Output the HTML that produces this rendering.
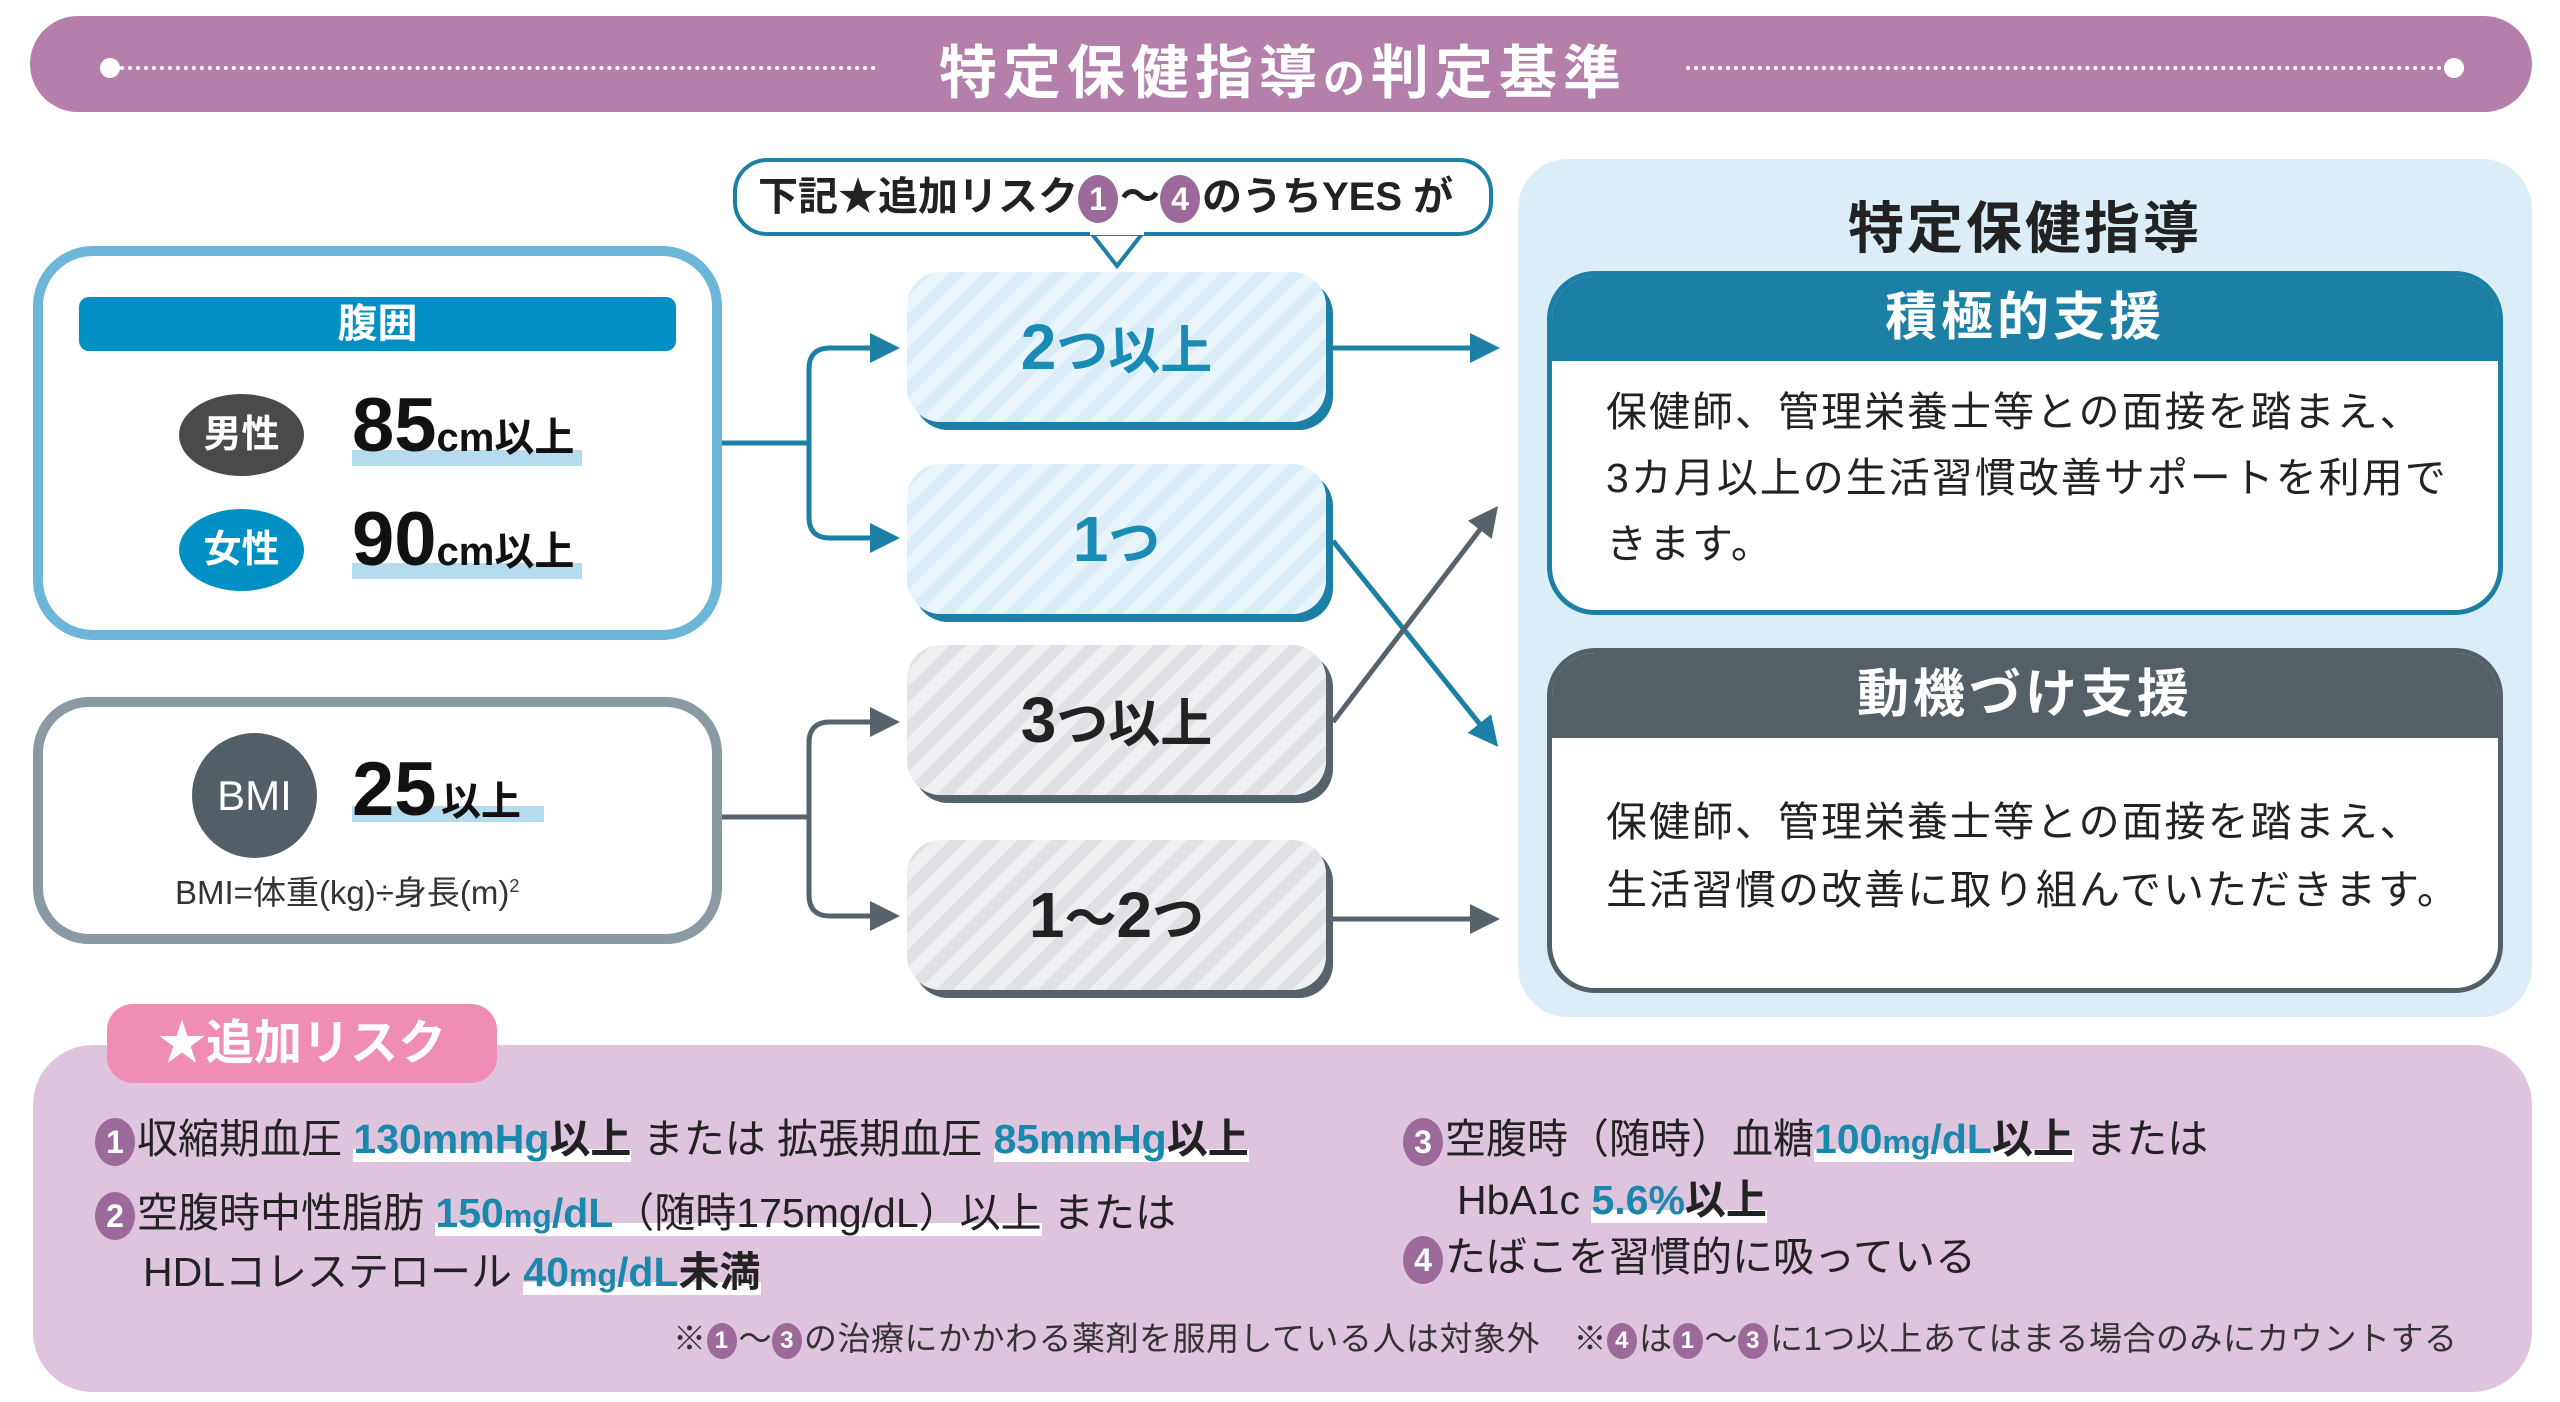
<!DOCTYPE html>
<html><head><meta charset="utf-8">
<style>
*{margin:0;padding:0;box-sizing:border-box}
body{width:2560px;height:1402px;background:#fff;position:relative;overflow:hidden;font-family:"Liberation Sans","Noto Sans CJK JP",sans-serif;color:#222}
.a{position:absolute}
.t{white-space:nowrap}
.num{display:inline-block;width:40px;height:48px;border-radius:50%;background:#9b6a9b;color:#fff;font-size:32px;font-weight:bold;text-align:center;line-height:48px;vertical-align:middle;margin-right:2px}
.hl{color:#1a87ad;font-weight:bold;background:linear-gradient(transparent 72%,#fff 72%)}
.hk{background:linear-gradient(transparent 72%,#fff 72%)}
.cnt{position:absolute;left:907px;width:419px;border-radius:34px;font-weight:600;font-size:64px;text-align:center}
.blue{background:repeating-linear-gradient(-45deg,#d9ecf7 0 12px,#eaf5fb 12px 24px);box-shadow:7px 8px 0 #1c7fa5;color:#1a8bb5}
.gray{background:repeating-linear-gradient(-45deg,#dfe1e4 0 12px,#eeeff1 12px 24px);box-shadow:7px 8px 0 #56636b;color:#222}
</style></head><body>

<div class="a" style="left:30px;top:16px;width:2502px;height:96px;border-radius:48px;background:#b57fac"></div>
<div class="a" style="left:112px;top:66px;width:764px;border-top:4px dotted #fff"></div>
<div class="a" style="left:1686px;top:66px;width:764px;border-top:4px dotted #fff"></div>
<div class="a" style="left:100px;top:58px;width:20px;height:20px;border-radius:50%;background:#fff"></div>
<div class="a" style="left:2444px;top:58px;width:20px;height:20px;border-radius:50%;background:#fff"></div>
<div class="a t" style="left:880px;top:26px;width:806px;text-align:center;font-size:58px;font-weight:bold;color:#fff;letter-spacing:6px">特定保健指導<span style="font-size:42px">の</span>判定基準</div>

<div class="a" style="left:733px;top:158px;width:760px;height:78px;border:4px solid #1c7fa5;border-radius:34px;background:#fff"></div>
<svg class="a" style="left:1090px;top:230px" width="54" height="40"><polygon points="2,4 27,36 52,4" fill="#fff" stroke="#1c7fa5" stroke-width="4"/><rect x="0" y="0" width="54" height="5" fill="#fff"/></svg>
<div class="a t" style="left:758px;top:168px;font-size:40px;font-weight:bold;line-height:58px">下記★追加リスク<span class="num">1</span>〜<span class="num">4</span>のうちYES が</div>

<div class="a" style="left:33px;top:246px;width:689px;height:394px;border:10px solid #6cb6d9;border-radius:60px;background:#fff"></div>
<div class="a" style="left:79px;top:297px;width:597px;height:54px;background:#0090c4;border-radius:10px;color:#fff;font-size:40px;font-weight:bold;text-align:center;line-height:54px">腹囲</div>
<div class="a" style="left:179px;top:394px;width:125px;height:82px;border-radius:50%;background:#4a4a4a;color:#fff;font-size:38px;font-weight:bold;text-align:center;line-height:82px">男性</div>
<div class="a" style="left:179px;top:509px;width:125px;height:82px;border-radius:50%;background:#0090c4;color:#fff;font-size:38px;font-weight:bold;text-align:center;line-height:82px">女性</div>
<div class="a" style="left:352px;top:450px;width:230px;height:16px;background:#b5dcee"></div>
<div class="a" style="left:352px;top:563px;width:230px;height:16px;background:#b5dcee"></div>
<div class="a t" style="left:352px;top:382px;font-weight:bold;color:#111"><span style="font-size:76px">85</span><span style="font-size:40px">cm以上</span></div>
<div class="a t" style="left:352px;top:496px;font-weight:bold;color:#111"><span style="font-size:76px">90</span><span style="font-size:40px">cm以上</span></div>

<div class="a" style="left:33px;top:697px;width:689px;height:247px;border:10px solid #8a9aa3;border-radius:56px;background:#fff"></div>
<div class="a" style="left:192px;top:733px;width:125px;height:125px;border-radius:50%;background:#525f67;color:#fff;font-size:42px;text-align:center;line-height:125px">BMI</div>
<div class="a" style="left:352px;top:806px;width:192px;height:16px;background:#b5dcee"></div>
<div class="a t" style="left:352px;top:746px;font-weight:bold;color:#111"><span style="font-size:76px">25</span> <span style="font-size:40px">以上</span></div>
<div class="a t" style="left:175px;top:866px;font-size:33px;color:#333">BMI=体重(kg)÷身長(m)<sup style="font-size:18px">2</sup></div>

<svg class="a" style="left:0;top:0" width="2560" height="1402">
<defs>
<marker id="mb" markerWidth="6" markerHeight="6" refX="5" refY="3" orient="auto"><polygon points="0,0 6,3 0,6" fill="#1c7fa5"/></marker>
<marker id="mg" markerWidth="6" markerHeight="6" refX="5" refY="3" orient="auto"><polygon points="0,0 6,3 0,6" fill="#56636b"/></marker>
</defs>
<g fill="none" stroke-width="5">
<path d="M722 443 H809" stroke="#1c7fa5"/>
<path d="M895 348 H830 Q809 348 809 369 V517 Q809 538 830 538 H895" stroke="#1c7fa5"/>
<path d="M860 348 H895" stroke="#1c7fa5" marker-end="url(#mb)"/>
<path d="M860 538 H895" stroke="#1c7fa5" marker-end="url(#mb)"/>
<path d="M722 817 H809" stroke="#56636b"/>
<path d="M895 722 H830 Q809 722 809 743 V895 Q809 916 830 916 H895" stroke="#56636b"/>
<path d="M860 722 H895" stroke="#56636b" marker-end="url(#mg)"/>
<path d="M860 916 H895" stroke="#56636b" marker-end="url(#mg)"/>
<path d="M1333 348 H1495" stroke="#1c7fa5" marker-end="url(#mb)"/>
<path d="M1333 541 L1495 743" stroke="#1c7fa5" marker-end="url(#mb)"/>
<path d="M1333 722 L1495 510" stroke="#56636b" marker-end="url(#mg)"/>
<path d="M1333 919 H1495" stroke="#56636b" marker-end="url(#mg)"/>
</g>
</svg>

<div class="cnt blue" style="top:272px;height:150px;line-height:150px">2<span style="font-size:52px">つ以上</span></div>
<div class="cnt blue" style="top:464px;height:150px;line-height:150px">1<span style="font-size:52px">つ</span></div>
<div class="cnt gray" style="top:645px;height:150px;line-height:150px">3<span style="font-size:52px">つ以上</span></div>
<div class="cnt gray" style="top:840px;height:150px;line-height:150px">1<span style="font-size:52px">～</span>2<span style="font-size:52px">つ</span></div>

<div class="a" style="left:1518px;top:159px;width:1014px;height:858px;border-radius:50px;background:#dbeef7"></div>
<div class="a t" style="left:1518px;top:184px;width:1014px;text-align:center;font-size:56px;font-weight:bold;color:#222;letter-spacing:3px">特定保健指導</div>
<div class="a" style="left:1547px;top:271px;width:956px;height:344px;border:5px solid #1c7fa5;border-radius:48px;background:#fff;overflow:hidden">
 <div style="height:85px;background:#1c7fa5;color:#fff;font-size:52px;font-weight:bold;text-align:center;line-height:85px;letter-spacing:4px">積極的支援</div>
 <div style="padding:18px 0 0 54px;font-size:41px;line-height:66px;letter-spacing:2px;color:#222">保健師、管理栄養士等との面接を踏まえ、<br>3カ月以上の生活習慣改善サポートを利用で<br>きます。</div>
</div>
<div class="a" style="left:1547px;top:648px;width:956px;height:345px;border:5px solid #545f66;border-radius:48px;background:#fff;overflow:hidden">
 <div style="height:85px;background:#545f66;color:#fff;font-size:52px;font-weight:bold;text-align:center;line-height:85px;letter-spacing:4px">動機づけ支援</div>
 <div style="padding:50px 0 0 54px;font-size:41px;line-height:68px;letter-spacing:2px;color:#222">保健師、管理栄養士等との面接を踏まえ、<br>生活習慣の改善に取り組んでいただきます。</div>
</div>

<div class="a" style="left:33px;top:1045px;width:2499px;height:347px;border-radius:60px;background:#dfc4dd"></div>
<div class="a" style="left:107px;top:1004px;width:390px;height:79px;border-radius:26px;background:#f08db5;color:#fff;font-size:48px;font-weight:bold;text-align:center;line-height:79px">★追加リスク</div>
<div class="a t" style="left:95px;top:1110px;font-size:41px;line-height:58px"><span class="num">1</span>収縮期血圧 <span class="hl">130mmHg<span style="color:#222">以上</span></span> または 拡張期血圧 <span class="hl">85mmHg<span style="color:#222">以上</span></span></div>
<div class="a t" style="left:95px;top:1184px;font-size:41px;line-height:58px"><span class="num">2</span>空腹時中性脂肪 <span class="hk"><span class="hl">150<span style="font-size:32px">mg</span>/dL</span>（随時175mg/dL）以上</span> または</div>
<div class="a t" style="left:143px;top:1243px;font-size:41px;line-height:58px">HDLコレステロール <span class="hl">40<span style="font-size:32px">mg</span>/dL<span style="color:#222">未満</span></span></div>
<div class="a t" style="left:1403px;top:1110px;font-size:41px;line-height:58px"><span class="num">3</span>空腹時（随時）血糖<span class="hl">100<span style="font-size:32px">mg</span>/dL<span style="color:#222">以上</span></span> または</div>
<div class="a t" style="left:1457px;top:1171px;font-size:41px;line-height:58px">HbA1c <span class="hl">5.6%<span style="color:#222">以上</span></span></div>
<div class="a t" style="left:1403px;top:1228px;font-size:41px;line-height:58px"><span class="num">4</span>たばこを習慣的に吸っている</div>
<div class="a t" style="left:673px;top:1316px;font-size:33px;line-height:46px;letter-spacing:0.5px;color:#333">※<span class="num" style="width:30px;height:36px;line-height:36px;font-size:24px">1</span>～<span class="num" style="width:30px;height:36px;line-height:36px;font-size:24px">3</span>の治療にかかわる薬剤を服用している人は対象外　※<span class="num" style="width:30px;height:36px;line-height:36px;font-size:24px">4</span>は<span class="num" style="width:30px;height:36px;line-height:36px;font-size:24px">1</span>～<span class="num" style="width:30px;height:36px;line-height:36px;font-size:24px">3</span>に1つ以上あてはまる場合のみにカウントする</div>

</body></html>
